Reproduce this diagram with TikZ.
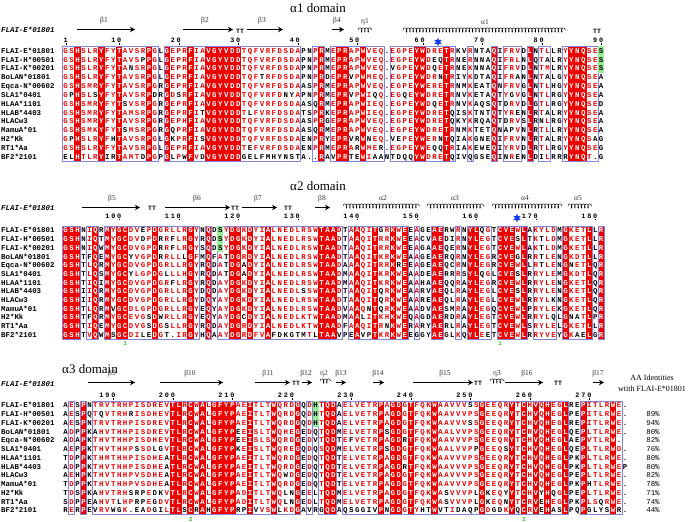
\documentclass[tikz,border=0pt]{standalone}
\usepackage{fontspec}
\usepackage{tikz}
\usetikzlibrary{arrows.meta,decorations.pathmorphing,shapes.geometric}
\setmainfont{Liberation Serif}
\newfontfamily\seqfont{Liberation Mono}
\definecolor{idred}{RGB}{236,0,0}
\definecolor{frameblue}{RGB}{135,130,220}
\definecolor{hlgreen}{RGB}{150,238,150}
\definecolor{mkgreen}{RGB}{40,200,40}
\definecolor{starblue}{RGB}{20,60,240}

\makeatletter
\newcount\colno
\newcount\nbest
\newcount\runstart
\newcount\pcol
\def\gapg{.}
\def\emptyg{x}
% residue similarity groups
\newcommand{\resgroup}[2]{\@for\g:=#1\do{\expandafter\xdef\csname gr@\g\endcsname{#2}}}
\resgroup{I,L,V,M}{I}
\resgroup{F,Y,W}{F}
\resgroup{K,R,H}{K}
\resgroup{D,E}{D}
\resgroup{N,Q}{N}
\resgroup{S,T}{S}
\resgroup{A}{A}
\resgroup{G}{G}
\resgroup{P}{P}
\resgroup{C}{C}
\resgroup{.}{.}
\resgroup{x}{x}
\def\grouplist{I,F,K,D,N,S,A,G,P,C}
\def\getres#1#2#3{\ifcsname sq@#1@#2@#3\endcsname\csname sq@#1@#2@#3\endcsname\else x\fi}
% one aligned row: block, row, residues
\newcommand{\seqrow}[3]{\def\sq@b{#1}\def\sq@r{#2}\global\colno=0 \sq@loop#3\relax}
\def\sq@loop#1{\ifx#1\relax\else\global\advance\colno by 1 \expandafter\xdef\csname sq@\sq@b @\sq@r @\the\colno\endcsname{#1}\expandafter\sq@loop\fi}
% R = strict identity, r = similar, - = none
\newcommand{\classify}[2]{%
  \foreach \col in {1,...,#2}{%
    \foreach \g in \grouplist{\expandafter\xdef\csname n@\g\endcsname{0}}%
    \edef\first{\getres{#1}{1}{\col}}%
    \xdef\strict{1}%
    \ifx\first\gapg\xdef\strict{0}\fi
    \ifx\first\emptyg\xdef\strict{0}\fi
    \foreach \rw in {1,...,13}{%
      \edef\ci{\getres{#1}{\rw}{\col}}%
      \ifx\ci\first\else\xdef\strict{0}\fi
      \edef\gi{\csname gr@\ci\endcsname}%
      \ifx\gi\gapg\else\ifx\gi\emptyg\else
        \expandafter\xdef\csname n@\gi\endcsname{\the\numexpr\csname n@\gi\endcsname+1\relax}%
      \fi\fi}%
    \global\nbest=0
    \xdef\bestg{?}%
    \foreach \g in \grouplist{%
      \ifnum\csname n@\g\endcsname>\nbest
        \global\nbest=\csname n@\g\endcsname\relax
        \xdef\bestg{\g}%
      \fi}%
    \ifnum\strict=1
      \expandafter\xdef\csname cl@#1@\col\endcsname{R}%
    \else\ifnum\nbest>8
      \expandafter\xdef\csname cl@#1@\col\endcsname{r}%
    \else
      \expandafter\xdef\csname cl@#1@\col\endcsname{-}%
    \fi\fi
    \expandafter\xdef\csname cg@#1@\col\endcsname{\bestg}}%
  \pgfmathtruncatemacro\nn{#2+1}%
  \expandafter\xdef\csname cl@#1@\nn\endcsname{-}}
% red columns and blue frames: block, ncols, top, bottom
\newcommand{\drawboxes}[4]{%
  \foreach \col in {1,...,#2}{%
    \edef\colcls{\csname cl@#1@\col\endcsname}%
    \if R\colcls\fill[idred] ({cx(\col)-3.2},#3) rectangle ({cx(\col)+3.2},#4);\fi}%
  \global\runstart=0
  \pgfmathtruncatemacro\nn{#2+1}%
  \foreach \col in {1,...,\nn}{%
    \edef\colcls{\csname cl@#1@\col\endcsname}%
    \if -\colcls
      \ifnum\runstart>0
        \draw[simframe] ({cx(\the\runstart)-2.975},#3) rectangle ({cx(\col)-2.975},#4);
        \global\runstart=0
      \fi
    \else
      \ifnum\runstart=0 \global\runstart=\col\relax\fi
    \fi}}
% residues: block, ncols, first row y, step
\newcommand{\drawletters}[4]{%
  \foreach \col in {1,...,#2}{%
    \edef\colcls{\csname cl@#1@\col\endcsname}%
    \edef\colgrp{\csname cg@#1@\col\endcsname}%
    \foreach \rw in {1,...,13}{%
      \edef\resch{\getres{#1}{\rw}{\col}}%
      \edef\chg{\csname gr@\resch\endcsname}%
      \def\rescol{black}%
      \if R\colcls\def\rescol{white}\fi
      \if r\colcls\ifx\chg\colgrp\def\rescol{idred}\fi\fi
      \ifx\resch\emptyg\else
        \node[res,text=\rescol] at ({cx(\col)},{#3+(\rw-1)*#4+2.6}) {\resch};
      \fi}}}
% ruler digits, one per column: start column, y, number
\newcommand{\placedigits}[3]{\global\pcol=#1\relax\def\pc@y{#2}\edef\pc@tmp{#3}\expandafter\pc@loop\pc@tmp\relax
  \draw[line width=0.4pt] ({cx(\the\pcol)-5.95},#2+0.8) -- ++(0,1.6);}
\def\pc@loop#1{\ifx#1\relax\else\node[rulenum] at ({cx(\the\pcol)},\pc@y) {#1};\global\advance\pcol by 1 \expandafter\pc@loop\fi}
\makeatother

% alpha1 domain
\seqrow{1}{1}{GSHSLRYFYTAVSRPGLGEPRFIAVGYVDDTQFVRFDSDAPNPRMEPRAPWVEQ.EGPEYWDRETRKVRNTAQIFRVDLNTLLRYYNQSES}
\seqrow{1}{2}{GSHSLRYFYTAVSPPGLGEPRFIAVGYVDDTQFVRFDSDAPNPRMEPRAPWVEQ.EGPEYWDEQTRNERNNAQIFRLNLQTALRYYNQSES}
\seqrow{1}{3}{GSHSLRYFYTANSRPGLGEPRFIAVGYVDDTQFVRFDSDAPNPRMEPRAPWVEQ.VGPEYWDQETRNEKNNAQIFRVDLNTMLRYYNQSES}
\seqrow{1}{4}{GSHSLRYFYTAVSRPGLGEPRFIAVGYVDDTQFTRFDSDAPNPRDEPRVPWMEQ.EGPEYWDRNTRIYKDTAQIFRANLNTALGYYNQSEA}
\seqrow{1}{5}{GSHSMRYFYTAVSRPGRGEPRFIAVGYVDDTQFVRFDSDAASPRMEPRAPWVEQ.EGPEYWERETRNMKEATQNFRVGLNTLHGYYNQSEA}
\seqrow{1}{6}{GPHSLSYFYTAVSRPDRGDSRFIAVGYVDDTQFVRFDNYAPNPRMEPRVPWIQQ.EGQEYWDRETRNVKETAQTYGVGLNTLRGYYNQSEA}
\seqrow{1}{7}{GSHSMRYFYTSVSRPGRGEPRFIAVGYVDDTQFVRFDSDAASQRMEPRAPWIEQ.EGPEYWDQETRNVKAQSQTDRVDLGTLRGYYNQSED}
\seqrow{1}{8}{GSHSMRYFYTAMSRPGRGEPRFITVGYVDDTLFVRFDSDATSPRKEPRAPWIEQ.EGPEYWDRETQISKTNTQTYRENLRTALRYYNQSEA}
\seqrow{1}{9}{GSHSMRYFYTAVSRPGRGEPHFIAVGYVDDTQFVRFDSDAASPRGEPRAPWVEQ.EGPEYWDRETQKYKRQAQTDRVSLRNLRGYYNQSEA}
\seqrow{1}{10}{GSHSMKYFYTSMSRPGRGQPRFIAVGYVDDTQFVRFDSDAASQRMEPRAPWVEQ.EGPEYWDRETRNMKTETQNAPVNLRTLLRYYNQSEA}
\seqrow{1}{11}{GPHSLRYFHTAVSRPGLGKPRFISVGYVDDTQFVRFDSDAENPRYEPRVRWNEQ.VEPEYWERNTQIAKGNEQIFRVNLRTALRYYNQSAG}
\seqrow{1}{12}{GSHSLRYFYTAVSRPGLGEPRFIAVGYVDDTEFVRFDSDAENPRMEPRARWMER.EGPEYWEQQTRIAKEWEQIYRVDLRTLRGYYNQSEG}
\seqrow{1}{13}{ELHTLRYIRTAMTDPGPGLPWFVDVGYVDDGELFMHYNSTA..RAVPRTEWIAANTDQQYWDRETQIVQGSEQINRENLDILRRRYNQT.G}
% alpha2 domain
\seqrow{2}{1}{GSHNIQRMYGCDVEPDGRLLRGYNQDSYDGKDYIALNEDLRSWTAADTAAQITGRKWEEAGEAERWRNYLQGTCVEWLAKYLDMGKETLLR}
\seqrow{2}{2}{GSHNIQTMYGCDVDPDRRFLRGYRQDSYDGKDYIALNEDLRSWTAADTAAQITRRKWEEACVAEDIRNYLEGTCVESLTKTLDMGKETLLR}
\seqrow{2}{3}{GSHNIQWMYGCDVGPDRRFLRGYSQDSYDGKDYIALNEDLRSWTAADTAAQITRRKWEEAGAAEQERNYLEGTCVEWLAKTLDMGKETLLR}
\seqrow{2}{4}{GSHTFQEMYGCYVGPDRRLLLGFMQFATDGRDYIALNEDLRSWTAADTAAQITKRKWEAAGEAERQRNYLEGRCVEGLRRTLENGKDTLLR}
\seqrow{2}{5}{GSHTLQRMYGCDVGPDGRLLRGYRQDATDGADYIALNEDLRSWTAADAAAQITRRKREEAGEAEQCRNYLEGRCVEWLLRTLENGNETLQR}
\seqrow{2}{6}{GSHTLQSMYGCYLGPDGLLLHGYRQDATDGADYIALNEDLRSWTAADMAAQITKRKWEAADEAERRRSYLQGLCVESLRRYLEMGKDTLQR}
\seqrow{2}{7}{GSHTIQIMYGCDVGPDGRFLRGYRQDAYDGKDYIALNEDLRSWTAADMAAQITKRKWEAAHAAEQQRAYLEGRCVEWLRRYLENGKETLQR}
\seqrow{2}{8}{GSHIIQRMYGCDVGPDGRLLRGYDQDAYDGKDYIALNEDLSSWTAADTAAQITQRKWEAARVAEQLRAYLEGLCVESLRRYLENGKETLQR}
\seqrow{2}{9}{GSHIIQRMYGCDVGPDGRLLRGYDQYAYDGKDYIALNEDLRSWTAADTAAQITQRKWEAAREAEQLRAYLEGLCVEWLRRYLKNGKETLQR}
\seqrow{2}{10}{GSHTLQRMVGCDLGPDGRLLRGYEQYAYDGKDYIALNEDLRSWTAADVAAQNTQRKWEAADVAESMRAYLEGQCVEWLPRYLEKGKETLQR}
\seqrow{2}{11}{GSHTFQRMYGCEVGSDWRLLRGYEQYAYDGCDYIALNEDLKTWTAADMAALITKHKWEQAGDAERDRAYLEGTCVEWLRRYLQLGNATLPR}
\seqrow{2}{12}{GSHTIQEMYGCDVGSDGSLLRGYRQDAYDGRDYIALNEDLKTWTAADFAAQITRNKWERARYAERLRAYLEGTCVEWLSRYLELGKETLLR}
\seqrow{2}{13}{GSHTVQWMSGCDILEDGT.IRGYHQAAYDGRDFVAFDKGTMTLTAAVPEAVPTKRKWEEGGYAEGLKQYLEETCVEWLRRYVEYGKAELGR}
% alpha3 domain
\seqrow{3}{1}{AESPNTRVTRHPISDREVTLRCWALGFYPAEITLTWQRDGQDHTQDAELVETRPAGDGTFQKWAAVVVSSGEEQRYTCHVQHEGLREPITLRWE.}
\seqrow{3}{2}{AESPQTQVTRHRISDHEVTLRCWALGFYPAEITLTWQRDGQDHTQDAELVETRPAGDGTFQKWAAVVVPSGEEQRYTCHVQHEGLPEPITLRWE.}
\seqrow{3}{3}{AESPNTRVTRHPISDREVTLRCWALGFYPAEITLTWQRDGQDHTQDAELVETRPAGDGTFQKWAAVVVSSGEEQRYTCHVQHEGLREPITLRWE.}
\seqrow{3}{4}{ADPPKAHVTHHPISDREVTLRCWALGFYPEEISLTWQHEGEDQTQDMELVETRPSGDGTFQKWAALVVPSGEEQRYTCRVQHEGLQEPLTLRWE.}
\seqrow{3}{5}{ADAPKTHVTHHPISDHEVTLRCWALGFYPEEISLSWQRDGEDVTQDTEFVETRPAGDRTFQKWAAVVVPSGEEQRYTCHVQHEGLAEPVTLRW.x}
\seqrow{3}{6}{AEPPKTHVTHHPSSDLGVTLRCWALGFYPKEISLTWQREGQDQSQDMELVETRPSGDGTFQKWAALVVPPGEEQSYTCHVQHEGLQEPLTLRWD.}
\seqrow{3}{7}{TDPPKTHMTHHPISDHEATLRCWALGFYPAEITLTWQRDGEDQTQDTELVETRPAGDGTFQKWAAVVVPSGEEQRYTCHVQHEGLPKPLTLRWE.}
\seqrow{3}{8}{ADPPKTHVTHHPISDHEATLRCWALGFYPAEITLTWQRDGEDQTQDTELVETRPAGDRTFQKWAAVVVPSGEEQRYTCHVQHEGLPKPLTLRWEP}
\seqrow{3}{9}{AEHPKTHVTHHPVSDHEATLRCWALGFYPAEITLTWQWDGEDQTQDTELVETRPAGDGTFQKWAAVVVPSGEEQRYTCHVQHEGLPEPLTLRWE.}
\seqrow{3}{10}{TDPPKTHVTHHPVSDHEATLRCWALGFYPAEITLTWQRDGEDQTQDTELVETRPAGDGTFQKWAAVVVPSGEEQRYTCHVQHEGLPKPHTLRWE.}
\seqrow{3}{11}{TDSPKAHVTRHSRPEDKVTLRCWALGFYPADITLTWQLNGEELTQDMELVETRPAGDGTFQKWASVVVPLGKEQYYTCHVYHQGLPEPLTLRWE.}
\seqrow{3}{12}{SDPPEAHVTLHPRPEGDVTLRCWALGFYPADITLTWQLNGEDLTQDMELVETRPAGDGTFQKWASVVVPLGKEQNYTCRVEHEGLPKPLSQRWE.}
\seqrow{3}{13}{RERPEVRVWGK.EADGILTLSCRAHGFYPRPIVVSWLKDGAVRGQDAQSGGIVPNGDGTYHTWVTIDAQPGDGDKYQCRVEHASLPQPGLYSWR.}
\classify{1}{91}
\classify{2}{91}
\classify{3}{95}

\begin{document}
\begin{tikzpicture}[x=1pt,y=-1pt,
  declare function={cx(\n)=65.7+(\n-1)*5.95;},
  res/.style={font=\seqfont\bfseries\fontsize{7.4}{8}\selectfont, inner sep=0pt, anchor=base},
  rowname/.style={font=\seqfont\bfseries\fontsize{7.4}{8}\selectfont, inner sep=0pt, anchor=base west},
  refname/.style={font=\seqfont\bfseries\itshape\fontsize{7.4}{8}\selectfont, inner sep=0pt, anchor=base west},
  rulenum/.style={font=\seqfont\bfseries\fontsize{6.8}{8}\selectfont, inner sep=0pt, anchor=base},
  sslabel/.style={font=\fontsize{7.5}{8}\selectfont, text=black!80, inner sep=0pt},
  turn/.style={font=\seqfont\bfseries\fontsize{6.5}{7}\selectfont, inner sep=0pt},
  strand/.style={line width=1.4pt, -{Stealth[length=5pt,width=5.5pt]}},
  helix/.style={decorate, decoration={coil, aspect=0.5, segment length=3.3pt, amplitude=2.2pt}, line width=0.45pt},
  simframe/.style={draw=frameblue, line width=0.55pt},
  title/.style={font=\fontsize{13}{15}\selectfont, inner sep=0pt},
  pct/.style={font=\seqfont\fontsize{7.4}{8}\selectfont, inner sep=0pt, anchor=base},
  ssmark/.style={font=\seqfont\bfseries\fontsize{6}{6}\selectfont, text=mkgreen, inner sep=0pt},
  site/.style={star, star points=6, star point ratio=2.2, fill=starblue, inner sep=0pt, minimum size=9pt}]
\useasboundingbox (0,0) rectangle (696,522);

% ---- alpha1 ----
\node[title] (t1) at (318,8) {α1 domain};
\node[refname] (ref1) at (1,32.5) {FLAI-E*01801};
\draw[strand] (77,29.5) -- (135,29.5);
\node[sslabel] (b1) at (104,21) {β1};
\draw[strand] (183,29.5) -- (233,29.5);
\node[sslabel] (b2) at (205,21) {β2};
\node[turn] (tt1) at (240,31) {TT};
\draw[strand] (247,29.5) -- (283,29.5);
\node[sslabel] (b3) at (262,21) {β3};
\draw[strand] (332,29.5) -- (344,29.5);
\node[sslabel] (b4) at (337,21) {β4};
\draw[helix] (358,30) -- (372,30);
\node[sslabel] (e1) at (365,22) {η1};
\draw[helix] (403,30) -- (568,30);
\node[sslabel] (a1) at (485,22) {α1};
\node[turn] (tt2) at (597,31) {TT};
\node[site] (s1) at (438,42) {};
\foreach \s/\n in {1/1,9/10,19/20,29/30,39/40,49/50,60/60,70/70,80/80,90/90}
  {\placedigits{\s}{42.5}{\n}}
\drawboxes{1}{91}{46.3}{161.1}
\fill[hlgreen] ({cx(91)-2.975},46.3) rectangle ++(5.95,26.5);
\drawletters{1}{91}{50.7}{8.83}
\foreach \nm [count=\k] in {FLAI-E*01801,FLAI-H*00501,FLAI-K*00201,BoLAN*01801,Eqca-N*00602,SLA1*0401,HLAA*1101,HLAB*4403,HLACw3,MamuA*01,H2*Kk,RT1*Aa,BF2*2101}
  \node[rowname] (n1\k) at (1,{50.7+(\k-1)*8.83+2.6}) {\nm};

% ---- alpha2 ----
\node[title] (t2) at (318,186.5) {α2 domain};
\node[refname] (ref2) at (1,210) {FLAI-E*01801};
\draw[strand] (82,207.5) -- (140,207.5);
\node[sslabel] (b5) at (112,199) {β5};
\node[turn] (tt3) at (152,208.5) {TT};
\draw[strand] (165,207.5) -- (230,207.5);
\node[sslabel] (b6) at (197,199) {β6};
\node[turn] (tt4) at (235,208.5) {TT};
\draw[strand] (242,207.5) -- (277,207.5);
\node[sslabel] (b7) at (258,199) {β7};
\node[turn] (tt5) at (288,208.5) {TT};
\draw[strand] (315,207.5) -- (330,207.5);
\node[sslabel] (b8) at (322,199) {β8};
\draw[helix] (343,206) -- (420,206);
\node[sslabel] (a2) at (383,198) {α2};
\draw[helix] (427,206) -- (485,206);
\node[sslabel] (a3) at (455,198) {α3};
\draw[helix] (492,206) -- (562,206);
\node[sslabel] (a4) at (525,198) {α4};
\draw[helix] (568,206) -- (592,206);
\node[sslabel] (a5) at (578,198) {α5};
\node[site] (s2) at (517,218) {};
\foreach \s/\n in {8/100,18/110,28/120,38/130,48/140,58/150,68/160,78/170,88/180}
  {\placedigits{\s}{218}{\n}}
\drawboxes{2}{91}{225.95}{339.05}
\fill[hlgreen] ({cx(27)-2.975},225.95) rectangle ++(5.95,26.1);
\drawletters{2}{91}{230.3}{8.7}
\foreach \nm [count=\k] in {FLAI-E*01801,FLAI-H*00501,FLAI-K*00201,BoLAN*01801,Eqca-N*00602,SLA1*0401,HLAA*1101,HLAB*4403,HLACw3,MamuA*01,H2*Kk,RT1*Aa,BF2*2101}
  \node[rowname] (n2\k) at (1,{230.3+(\k-1)*8.7+2.6}) {\nm};
\node[ssmark] (c1a) at ({cx(11)},344) {1};
\node[ssmark] (c1b) at ({cx(74)},344) {1};

% ---- alpha3 ----
\node[title] (t3) at (90,369) {α3 domain};
\node[refname] (ref3) at (1,386) {FLAI-E*01801};
\draw[strand] (88,382.5) -- (135,382.5);
\node[sslabel] (b9) at (112,374) {β9};
\draw[strand] (160,382.5) -- (223,382.5);
\node[sslabel] (b10) at (190,374) {β10};
\draw[strand] (255,382.5) -- (290,382.5);
\node[sslabel] (b11) at (268,374) {β11};
\node[turn] (tt6) at (296,383.5) {TT};
\draw[strand] (302,382.5) -- (312,382.5);
\node[sslabel] (b12) at (306,374) {β12};
\draw[helix] (320,381) -- (333,381);
\node[sslabel] (e2) at (324,374) {η2};
\draw[strand] (336,382.5) -- (346,382.5);
\node[sslabel] (b13) at (341,374) {β13};
\draw[strand] (373,382.5) -- (384,382.5);
\node[sslabel] (b14) at (378,374) {β14};
\draw[strand] (413,382.5) -- (473,382.5);
\node[sslabel] (b15) at (445,374) {β15};
\node[turn] (tt7) at (478,383.5) {TT};
\draw[helix] (490,381) -- (505,381);
\node[sslabel] (e3) at (497,374) {η3};
\draw[strand] (505,382.5) -- (543,382.5);
\node[sslabel] (b16) at (527,374) {β16};
\node[turn] (tt8) at (558,383.5) {TT};
\draw[strand] (593,382.5) -- (604,382.5);
\node[sslabel] (b17) at (598,374) {β17};
\foreach \s/\n in {7/190,17/200,27/210,37/220,47/230,57/240,67/250,77/260,87/270}
  {\placedigits{\s}{397.5}{\n}}
\drawboxes{3}{95}{400.8}{514.6}
\fill[hlgreen] ({cx(43)-2.975},400.8) rectangle ++(5.95,26.25);
\drawletters{3}{95}{405.2}{8.75}
\foreach \nm [count=\k] in {FLAI-E*01801,FLAI-H*00501,FLAI-K*00201,BoLAN*01801,Eqca-N*00602,SLA1*0401,HLAA*1101,HLAB*4403,HLACw3,MamuA*01,H2*Kk,RT1*Aa,BF2*2101}
  \node[rowname] (n3\k) at (1,{405.2+(\k-1)*8.75+2.6}) {\nm};
\node[ssmark] (c2a) at ({cx(22)},519) {2};
\node[ssmark] (c2b) at ({cx(78)},519) {2};
\node[font=\fontsize{8}{9}\selectfont, inner sep=0pt] (hd1) at (652,378) {AA Identities};
\node[font=\fontsize{8}{9}\selectfont, inner sep=0pt] (hd2) at (652,389) {wtith FLAI-E*01801};
\foreach \p [count=\k from 2] in {89,94,80,82,76,80,80,82,78,71,74,44}
  \node[pct] (p\k) at (653,{405.2+(\k-1)*8.75+2.6}) {\p\%};
\end{tikzpicture}
\end{document}
